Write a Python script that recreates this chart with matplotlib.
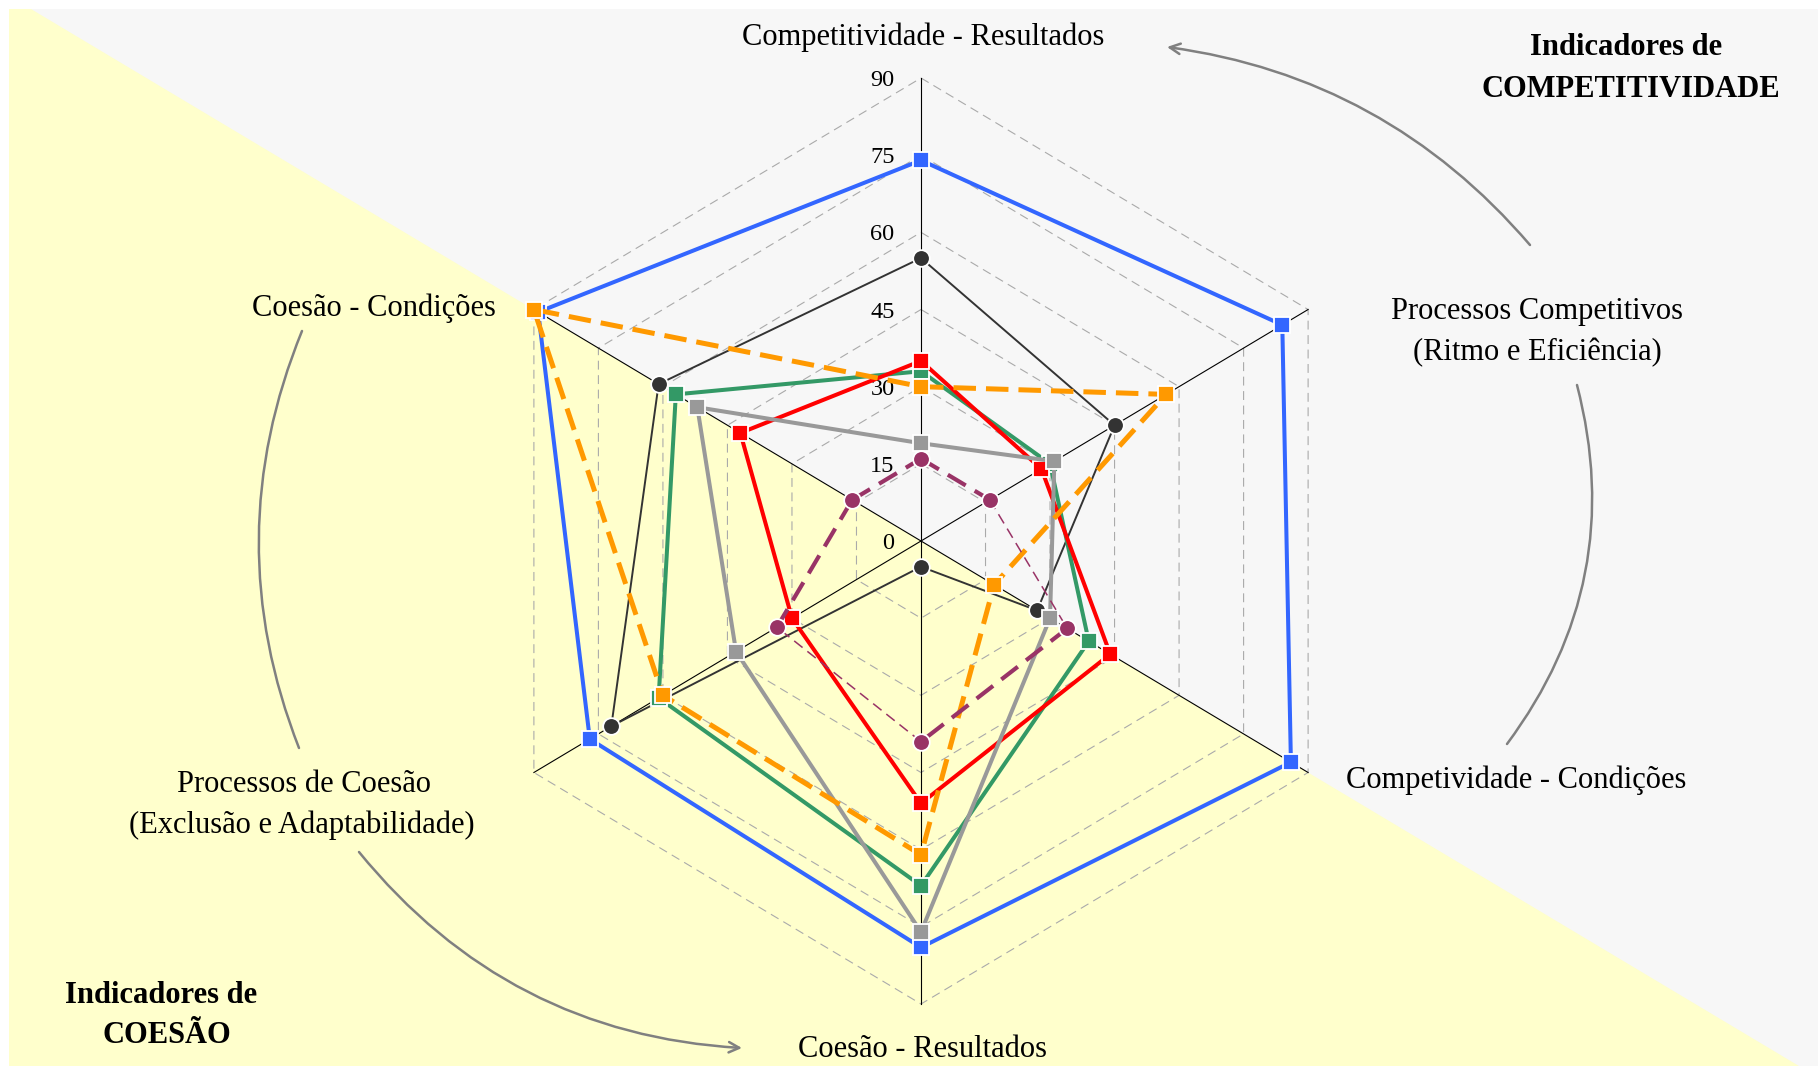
import numpy as np
import matplotlib
matplotlib.use("Agg")
import matplotlib.pyplot as plt
from matplotlib.patches import Polygon, Rectangle

# axis labels, clockwise from the top
axis_labels = ["Competitividade - Resultados",
               "Processos Competitivos\n(Ritmo e Eficiência)",
               "Competividade - Condições",
               "Coesão - Resultados",
               "Processos de Coesão\n(Exclusão e Adaptabilidade)",
               "Coesão - Condições"]
tick_values = [0, 15, 30, 45, 60, 75, 90]

# series values in the same axis order
blue = [74, 84, 86, 79, 77, 89]
black = [55, 45, 27, 5, 72, 61]
green = [33, 30, 39, 67, 61, 57]
red = [35, 28, 44, 51, 30, 42]
gray = [19, 31, 30, 76, 43, 52]
orange = [30, 57, 17, 61, 60, 90]
purple = [16, 16, 34, 39, 33.5, 16]

W, H = 1818, 1066
cx, cy = 921, 541          # centre of the radar in pixels
rx, ry = 447, 463          # pixel length of the 90 spoke, horizontal / vertical
vmax = 90

plt.rcParams['font.family'] = ['Liberation Serif', 'DejaVu Serif']

fig = plt.figure(figsize=(W / 100, H / 100), dpi=100)

# background layer in pixel coordinates
bg = fig.add_axes([0, 0, 1, 1], zorder=0)
bg.set_xlim(0, W)
bg.set_ylim(H, 0)
bg.axis('off')
left, top = 9, 9
bg.add_patch(Rectangle((left, top), W - left, H - top, facecolor='#ffffcc', edgecolor='none'))
slope = (ry * 0.5) / (rx * np.cos(np.pi / 6))
x_top = cx - (cy - top) / slope
x_bot = cx + (H - cy) / slope
bg.add_patch(Polygon([(x_top, top), (W, top), (W, H), (x_bot, H)], closed=True,
                     facecolor='#f7f7f7', edgecolor='none'))

# radar layer: data coordinates scaled so 90 matches the picture
ax = fig.add_axes([0, 0, 1, 1], zorder=1)
sx, sy = rx / vmax, ry / vmax
ax.set_xlim(-cx / sx, (W - cx) / sx)
ax.set_ylim(-(H - cy) / sy, cy / sy)
ax.axis('off')

n = len(axis_labels)
theta = np.arange(n) * 2 * np.pi / n
ux, uy = np.sin(theta), np.cos(theta)


def xy(vals):
    v = np.asarray(vals, dtype=float)
    x = np.append(v * ux, v[0] * ux[0])
    y = np.append(v * uy, v[0] * uy[0])
    return x, y


# grid hexagons and spokes
for t in tick_values[1:]:
    gx, gy = xy([t] * n)
    ax.plot(gx, gy, color='#aaaaaa', lw=0.8, ls=(0, (8, 5)), zorder=1)
for k in range(n):
    ax.plot([0, vmax * ux[k]], [0, vmax * uy[k]], color='black', lw=0.8, zorder=1)
for t in tick_values:
    ax.annotate(str(t), (0, t), xytext=(-19, 0), textcoords='offset points',
                ha='right', va='center_baseline', fontsize=17.5, color='black', zorder=1)

series = [
    (blue, '#3366ff', '-', 2.9, 's'),
    (black, '#333333', '-', 1.4, 'o'),
    (green, '#339966', '-', 2.9, 's'),
    (red, '#ff0000', '-', 2.9, 's'),
    (gray, '#999999', '-', 2.9, 's'),
    (orange, '#ff9900', (0, (4.5, 2)), 3.6, 's'),
]
z = 3
for vals, col, ls, lw, mk in series:
    x, y = xy(vals)
    ax.plot(x, y, color=col, ls=ls, lw=lw, zorder=z, solid_joinstyle='miter')
    ax.plot(x[:-1], y[:-1], ls='none', marker=mk, ms=12, mfc=col, mec='white',
            mew=1.3, zorder=z + 0.5)
    z += 1

# purple series: dashed, with segments of two widths
px, py = xy(purple)
seg_w = [3.0, 1.1, 3.0, 1.1, 3.0, 3.0]
for k in range(n):
    dash = (0, (5, 2.5)) if seg_w[k] > 2 else (0, (7, 4))
    ax.plot(px[k:k + 2], py[k:k + 2], color='#993366', lw=seg_w[k], ls=dash, zorder=z)
ax.plot(px[:-1], py[:-1], ls='none', marker='o', ms=12, mfc='#993366', mec='white',
        mew=1.3, zorder=z + 0.5)

# axis labels (pixel positions, baseline)
lab_fs = 22
label_pos = [[(923, 45)],
             [(1537, 319), (1537, 360)],
             [(1516, 788)],
             [(923, 1057)],
             [(304, 792), (302, 833)],
             [(374, 316)]]
for lab, pos in zip(axis_labels, label_pos):
    for line, (lx, ly) in zip(lab.split('\n'), pos):
        bg.text(lx, ly, line, ha='center', va='baseline', fontsize=lab_fs, color='black')

for line, (lx, ly) in zip(['Indicadores de', 'COMPETITIVIDADE'], [(1626, 55), (1631, 97)]):
    bg.text(lx, ly, line, ha='center', va='baseline', fontsize=22, fontweight='bold')
for line, (lx, ly) in zip(['Indicadores de', 'COESÃO'], [(161, 1003), (167, 1043)]):
    bg.text(lx, ly, line, ha='center', va='baseline', fontsize=22, fontweight='bold')

# curved gray arrows
arc_col = '#808080'
head = dict(arrowstyle='->,head_length=0.5,head_width=0.25', mutation_scale=15)
plain = dict(arrowstyle='-')
arcs = [((1530, 245), (1167, 47), 0.19, head),
        ((1577, 385), (1507, 744), -0.24, plain),
        ((302, 331), (299, 748), 0.2, plain),
        ((359, 852), (742, 1048), 0.22, head)]
for start, end, rad, style in arcs:
    props = dict(style, color=arc_col, lw=1.8, shrinkA=0, shrinkB=0,
                 connectionstyle=f'arc3,rad={rad}')
    bg.annotate('', xy=end, xytext=start, arrowprops=props)

fig.savefig('out.png', dpi=100)
